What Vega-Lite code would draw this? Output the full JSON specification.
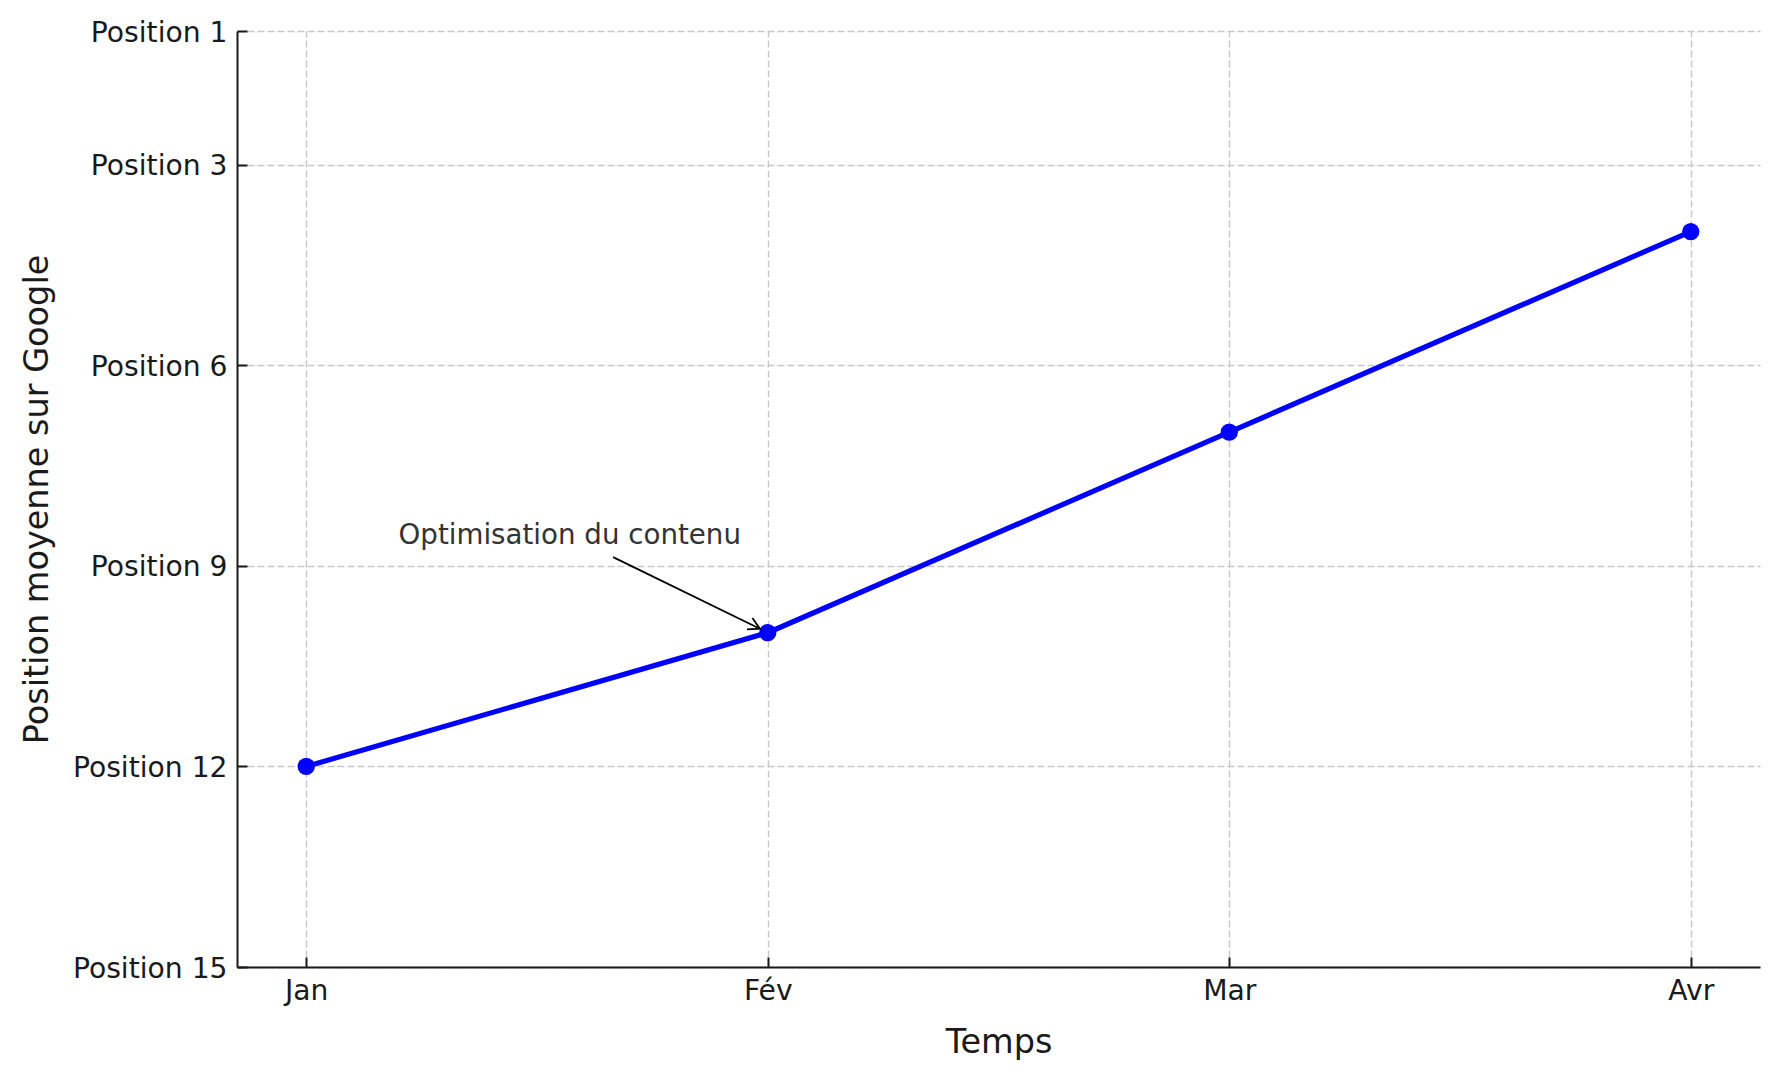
{
  "$schema": "https://vega.github.io/schema/vega-lite/v6.json",
  "width": 1523,
  "height": 936,
  "autosize": {"type": "none"},
  "padding": {"left": 237, "top": 31, "right": 19, "bottom": 113},
  "background": "white",
  "config": {
    "view": {"stroke": null},
    "font": "DejaVu Sans",
    "axis": {
      "labelFont": "DejaVu Sans",
      "titleFont": "DejaVu Sans",
      "labelFontSize": 28.2,
      "titleFontSize": 33.5,
      "titleFontWeight": "normal",
      "labelColor": "#1a1a1a",
      "titleColor": "#1a1a1a",
      "domainColor": "#1a1a1a",
      "domainWidth": 2,
      "tickColor": "#1a1a1a",
      "tickWidth": 2,
      "tickSize": -10,
      "gridColor": "#c8c8c8",
      "gridDash": [7, 3],
      "gridWidth": 1.4
    }
  },
  "data": {
    "values": [
      {"mois": "Jan", "idx": 0, "position": 12},
      {"mois": "Fév", "idx": 1, "position": 10},
      {"mois": "Mar", "idx": 2, "position": 7},
      {"mois": "Avr", "idx": 3, "position": 4}
    ]
  },
  "layer": [
    {
      "mark": {"type": "line", "color": "#0000ff", "strokeWidth": 5.2},
      "encoding": {
        "x": {
          "field": "idx",
          "type": "quantitative",
          "scale": {"domain": [-0.15, 3.15], "nice": false, "zero": false},
          "axis": {
            "title": "Temps",
            "values": [0, 1, 2, 3],
            "labelExpr": "['Jan','Fév','Mar','Avr'][datum.value]",
            "labelPadding": 20,
            "titlePadding": 22,
            "grid": true
          }
        },
        "y": {
          "field": "position",
          "type": "quantitative",
          "scale": {"domain": [1, 15], "reverse": true, "nice": false, "zero": false},
          "axis": {
            "title": "Position moyenne sur Google",
            "values": [1, 3, 6, 9, 12, 15],
            "labelExpr": "'Position ' + datum.value",
            "labelPadding": 20,
            "labelOffset": 2,
            "titlePadding": 18,
            "grid": true
          }
        }
      }
    },
    {
      "mark": {"type": "point", "filled": true, "color": "#0000ff", "size": 300, "opacity": 1},
      "encoding": {
        "x": {"field": "idx", "type": "quantitative"},
        "y": {"field": "position", "type": "quantitative"}
      }
    },
    {
      "data": {"values": [{"x": 0.665, "y": 8.87, "x2": 0.983, "y2": 9.94}]},
      "mark": {"type": "rule", "color": "black", "strokeWidth": 1.8},
      "encoding": {
        "x": {"field": "x", "type": "quantitative"},
        "y": {"field": "y", "type": "quantitative"},
        "x2": {"field": "x2"},
        "y2": {"field": "y2"}
      }
    },
    {
      "data": {"values": [{"x": 0.983, "y": 9.94}]},
      "mark": {
        "type": "point",
        "shape": "M -1 -0.55 L 0 0 L -1 0.55",
        "filled": false,
        "stroke": "black",
        "strokeWidth": 1.8,
        "size": 520,
        "angle": 26,
        "opacity": 1
      },
      "encoding": {
        "x": {"field": "x", "type": "quantitative"},
        "y": {"field": "y", "type": "quantitative"}
      }
    },
    {
      "data": {"values": [{"x": 0.2, "y": 8.67, "texte": "Optimisation du contenu"}]},
      "mark": {
        "type": "text",
        "align": "left",
        "baseline": "alphabetic",
        "font": "DejaVu Sans",
        "fontSize": 27.7,
        "color": "#333333"
      },
      "encoding": {
        "x": {"field": "x", "type": "quantitative"},
        "y": {"field": "y", "type": "quantitative"},
        "text": {"field": "texte"}
      }
    }
  ]
}
